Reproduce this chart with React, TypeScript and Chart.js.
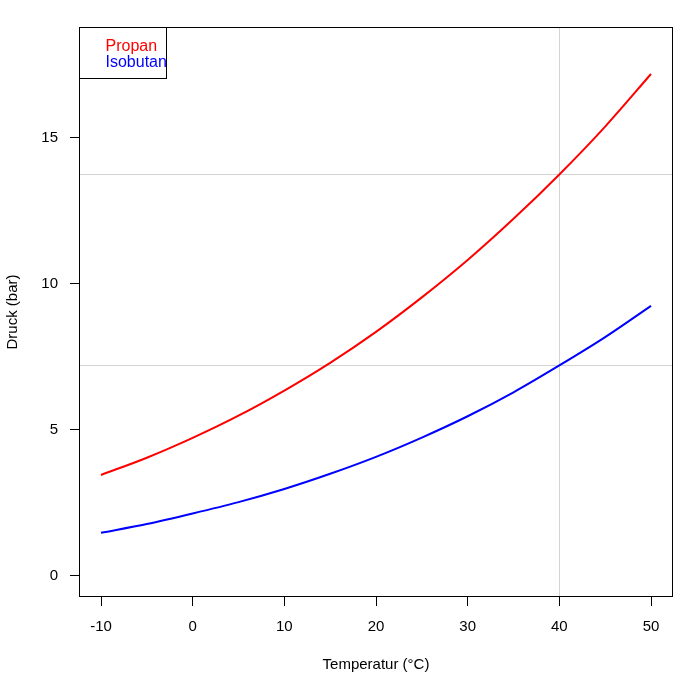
import { useEffect, useRef } from "react"
import { Chart, registerables } from "chart.js"

Chart.register(...registerables)

// Dampfdruck über Temperatur
const temperatures = [-10, -5, 0, 5, 10, 15, 20, 25, 30, 35, 40, 45, 50]
const propan = [3.44, 4.03, 4.71, 5.47, 6.33, 7.28, 8.34, 9.52, 10.8, 12.21, 13.73, 15.37, 17.17]
const isobutan = [1.46, 1.76, 2.12, 2.51, 2.96, 3.48, 4.06, 4.72, 5.45, 6.27, 7.19, 8.16, 9.23]

const xTicks = [-10, 0, 10, 20, 30, 40, 50]
const yTicks = [0, 5, 10, 15]
const xLimits = [-12.4, 52.4]
const yLimits = [-0.74, 18.78]

// gray reference lines
const refX = [40]
const refY = [13.73, 7.19]

const FONT = "'Liberation Sans', Arial, Helvetica, sans-serif"

const frameAndRefs = {
  id: "frameAndRefs",
  beforeDatasetsDraw(chart: Chart) {
    const { ctx, chartArea, scales } = chart
    ctx.save()
    ctx.strokeStyle = "#d3d3d3"
    ctx.lineWidth = 1
    refX.forEach((v) => {
      const x = Math.round(scales.x.getPixelForValue(v)) + 0.5
      ctx.beginPath()
      ctx.moveTo(x, chartArea.top)
      ctx.lineTo(x, chartArea.bottom)
      ctx.stroke()
    })
    refY.forEach((v) => {
      const y = Math.round(scales.y.getPixelForValue(v)) + 0.5
      ctx.beginPath()
      ctx.moveTo(chartArea.left, y)
      ctx.lineTo(chartArea.right, y)
      ctx.stroke()
    })
    ctx.restore()
  },
  afterDatasetsDraw(chart: Chart) {
    const { ctx, chartArea } = chart
    ctx.save()
    ctx.strokeStyle = "#000"
    ctx.lineWidth = 1
    ctx.strokeRect(
      chartArea.left + 0.5,
      chartArea.top + 0.5,
      chartArea.right - chartArea.left - 1,
      chartArea.bottom - chartArea.top - 1
    )
    // legend box, top left
    const bx = chartArea.left + 0.5
    const by = chartArea.top + 0.5
    ctx.strokeRect(bx, by, 87, 51)
    ctx.font = `16px ${FONT}`
    ctx.textBaseline = "alphabetic"
    ctx.textAlign = "left"
    chart.data.datasets.forEach((ds, i) => {
      ctx.fillStyle = ds.borderColor as string
      ctx.fillText(ds.label || "", bx + 26, by + 23 + i * 16.7)
    })
    ctx.restore()
  },
}

export default function App() {
  const canvasRef = useRef<HTMLCanvasElement>(null)

  useEffect(() => {
    if (!canvasRef.current) return
    const chart = new Chart(canvasRef.current, {
      type: "line",
      data: {
        datasets: [
          {
            label: "Propan",
            data: temperatures.map((t, i) => ({ x: t, y: propan[i] })),
            borderColor: "#ff0000",
            borderWidth: 2,
            pointRadius: 0,
            cubicInterpolationMode: "monotone",
            fill: false,
          },
          {
            label: "Isobutan",
            data: temperatures.map((t, i) => ({ x: t, y: isobutan[i] })),
            borderColor: "#0000ff",
            borderWidth: 2,
            pointRadius: 0,
            cubicInterpolationMode: "monotone",
            fill: false,
          },
        ],
      },
      options: {
        responsive: true,
        maintainAspectRatio: false,
        animation: false,
        layout: { padding: { top: 27, right: 22, left: 0, bottom: 0 } },
        plugins: {
          legend: { display: false },
          tooltip: { enabled: false },
        },
        scales: {
          x: {
            type: "linear",
            min: xLimits[0],
            max: xLimits[1],
            afterBuildTicks: (s) => {
              s.ticks = xTicks.map((v) => ({ value: v }))
            },
            afterFit: (s) => {
              s.height = 93
            },
            grid: {
              drawOnChartArea: false,
              drawTicks: true,
              tickLength: 9,
              color: "#000",
            },
            border: { display: false },
            ticks: {
              color: "#000",
              padding: 12,
              maxRotation: 0,
              font: { family: FONT, size: 15 },
            },
            title: {
              display: true,
              text: "Temperatur (°C)",
              color: "#000",
              font: { family: FONT, size: 15 },
              padding: { top: 0, bottom: 16 },
            },
          },
          y: {
            type: "linear",
            min: yLimits[0],
            max: yLimits[1],
            afterBuildTicks: (s) => {
              s.ticks = yTicks.map((v) => ({ value: v }))
            },
            afterFit: (s) => {
              s.width = 79
            },
            grid: {
              drawOnChartArea: false,
              drawTicks: true,
              tickLength: 9,
              color: "#000",
            },
            border: { display: false },
            ticks: {
              color: "#000",
              padding: 12,
              font: { family: FONT, size: 15 },
            },
            title: {
              display: true,
              text: "Druck (bar)",
              color: "#000",
              font: { family: FONT, size: 15 },
              padding: { top: 4, bottom: 0 },
            },
          },
        },
      },
      plugins: [frameAndRefs],
    })
    return () => chart.destroy()
  }, [])

  return (
    <div
      style={{
        position: "absolute",
        left: 0,
        top: 0,
        width: 695,
        height: 690,
        background: "#fff",
      }}
    >
      <canvas ref={canvasRef} />
    </div>
  )
}
